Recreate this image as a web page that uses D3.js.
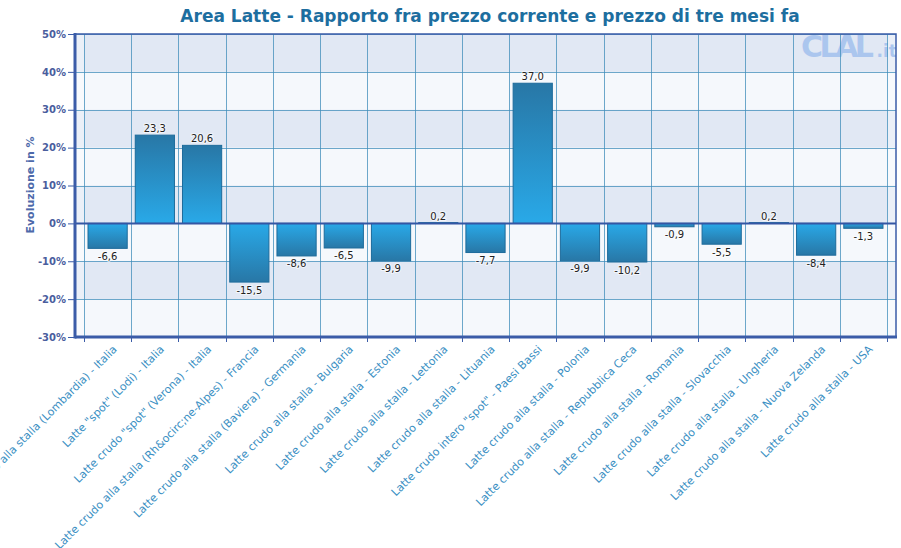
<!DOCTYPE html>
<html>
<head>
<meta charset="utf-8">
<script src="https://cdn.jsdelivr.net/npm/d3@7"></script>
<style>
  body { margin: 0; background: #fff; }
  svg { display: block; font-family: "DejaVu Sans", Verdana, sans-serif; }
</style>
</head>
<body>
<script>
// data
var categories = [
  'Latte crudo alla stalla (Lombardia) - Italia',
  'Latte "spot" (Lodi) - Italia',
  'Latte crudo "spot" (Verona) - Italia',
  'Latte crudo alla stalla (Rh&ocirc;ne-Alpes) - Francia',
  'Latte crudo alla stalla (Baviera) - Germania',
  'Latte crudo alla stalla - Bulgaria',
  'Latte crudo alla stalla - Estonia',
  'Latte crudo alla stalla - Lettonia',
  'Latte crudo alla stalla - Lituania',
  'Latte crudo intero "spot" - Paesi Bassi',
  'Latte crudo alla stalla - Polonia',
  'Latte crudo alla stalla - Repubblica Ceca',
  'Latte crudo alla stalla - Romania',
  'Latte crudo alla stalla - Slovacchia',
  'Latte crudo alla stalla - Ungheria',
  'Latte crudo alla stalla - Nuova Zelanda',
  'Latte crudo alla stalla - USA'
];
var values = [-6.6, 23.3, 20.6, -15.5, -8.6, -6.5, -9.9, 0.2, -7.7, 37.0, -9.9, -10.2, -0.9, -5.5, 0.2, -8.4, -1.3];
var yTicks = [-30, -20, -10, 0, 10, 20, 30, 40, 50];

var global_width = 901,
    global_height = 548;

// plot frame
var margin = {top: 34, right: 5, bottom: 211, left: 75};
var width = global_width - margin.left - margin.right,
    height = global_height - margin.top - margin.bottom;
var inset = 9;

var svg = d3.select('body').append('svg')
  .attr('width', global_width)
  .attr('height', global_height);

var defs = svg.append('defs');

// bar gradients: bright near zero, darker at the end
var gUp = defs.append('linearGradient').attr('id', 'gradUp')
  .attr('x1', 0).attr('y1', 1).attr('x2', 0).attr('y2', 0);
gUp.append('stop').attr('offset', '0%').attr('stop-color', '#29a9e8');
gUp.append('stop').attr('offset', '100%').attr('stop-color', '#2877a6');
var gDown = defs.append('linearGradient').attr('id', 'gradDown')
  .attr('x1', 0).attr('y1', 0).attr('x2', 0).attr('y2', 1);
gDown.append('stop').attr('offset', '0%').attr('stop-color', '#29a9e8');
gDown.append('stop').attr('offset', '100%').attr('stop-color', '#2877a6');

defs.append('clipPath').attr('id', 'plotClip')
  .append('rect').attr('width', width).attr('height', height);

var g = svg.append('g')
  .attr('transform', 'translate(' + margin.left + ',' + margin.top + ')');

//Scales
var yScale = d3.scaleLinear().domain([-30, 50]).range([height, 0]);
var xCell = d3.scaleBand().domain(categories).range([inset, width - inset]);
var xScale = d3.scaleBand().domain(categories).range([inset, width - inset])
  .paddingInner(0.17).paddingOuter(0.085);

// background
g.append('rect')
  .attr('width', width).attr('height', height)
  .attr('fill', '#f5f8fc');

// alternating bands
var bands = d3.pairs(yTicks).filter(function(p, i) { return i % 2 === 1; });
g.append('g').selectAll('rect')
  .data(bands)
  .enter().append('rect')
  .attr('x', 0)
  .attr('width', width)
  .attr('y', function(d) { return yScale(d[1]); })
  .attr('height', function(d) { return yScale(d[0]) - yScale(d[1]); })
  .attr('fill', '#e1e8f4');

// lighter side strips
g.append('rect').attr('x', 0).attr('width', inset).attr('height', height)
  .attr('fill', '#fff').attr('opacity', 0.35);
g.append('rect').attr('x', width - inset).attr('width', inset).attr('height', height)
  .attr('fill', '#fff').attr('opacity', 0.35);

// watermark
var wm = g.append('g').attr('clip-path', 'url(#plotClip)')
  .append('text')
  .attr('x', 726).attr('y', 23)
  .attr('font-weight', 'bold')
  .attr('fill', '#abc6ee');
wm.append('tspan')
  .attr('font-size', 30)
  .attr('letter-spacing', -3.5)
  .text('CLAL');
wm.append('tspan')
  .attr('dx', 6)
  .attr('font-size', 17)
  .text('.it');

// grid lines
var grid = g.append('g').attr('stroke', '#3d8cba').attr('stroke-opacity', 0.75).attr('stroke-width', 1);
grid.selectAll('.hgrid')
  .data(yTicks.filter(function(d) { return d !== 0 && d !== -30; }))
  .enter().append('line')
  .attr('x1', 0).attr('x2', width)
  .attr('y1', function(d) { return Math.round(yScale(d)) + 0.5; })
  .attr('y2', function(d) { return Math.round(yScale(d)) + 0.5; });
var bounds = categories.map(function(c) { return xCell(c); }).concat([width - inset]);
grid.selectAll('.vgrid')
  .data(bounds)
  .enter().append('line')
  .attr('x1', function(d) { return Math.round(d) + 0.5; })
  .attr('x2', function(d) { return Math.round(d) + 0.5; })
  .attr('y1', 0).attr('y2', height);

//Bars
g.append('g').selectAll('rect')
  .data(values)
  .enter().append('rect')
  .attr('x', function(d, i) { return xScale(categories[i]); })
  .attr('width', xScale.bandwidth())
  .attr('y', function(d) { return yScale(Math.max(0, d)); })
  .attr('height', function(d) { return Math.abs(yScale(d) - yScale(0)); })
  .attr('fill', function(d) { return d >= 0 ? 'url(#gradUp)' : 'url(#gradDown)'; })
  .attr('stroke', '#1d6b9b')
  .attr('stroke-width', 1);

// value labels (comma decimals, plain hyphen)
var fmt = d3.format('.1f');
g.append('g').selectAll('text')
  .data(values)
  .enter().append('text')
  .attr('x', function(d, i) { return xScale(categories[i]) + xScale.bandwidth() / 2; })
  .attr('y', function(d) { return d >= 0 ? yScale(d) - 3 : yScale(d) + 11.5; })
  .attr('text-anchor', 'middle')
  .attr('font-size', 10)
  .attr('fill', '#222')
  .attr('stroke', '#fff').attr('stroke-width', 2).attr('stroke-opacity', 0.6)
  .attr('paint-order', 'stroke')
  .text(function(d) { return fmt(d).replace('.', ',').replace('\u2212', '-'); });

// frame
g.append('rect')
  .attr('width', width).attr('height', height)
  .attr('fill', 'none').attr('stroke', '#3b5ca8').attr('stroke-width', 1.5);

// zero line
g.append('line')
  .attr('x1', 0).attr('x2', width)
  .attr('y1', yScale(0)).attr('y2', yScale(0))
  .attr('stroke', '#3456a4').attr('stroke-width', 2);

// bottom axis line and ticks
g.append('line')
  .attr('x1', 0).attr('x2', width + 1)
  .attr('y1', height).attr('y2', height)
  .attr('stroke', '#3b5ca8').attr('stroke-width', 3);
g.append('g').selectAll('line')
  .data(bounds)
  .enter().append('line')
  .attr('x1', function(d) { return Math.round(d) + 0.5; })
  .attr('x2', function(d) { return Math.round(d) + 0.5; })
  .attr('y1', height).attr('y2', height + 5)
  .attr('stroke', '#3b5ca8');

// x labels
g.append('g').selectAll('text')
  .data(categories)
  .enter().append('text')
  .attr('transform', function(d) {
    return 'translate(' + (xCell(d) + xCell.bandwidth() / 2 + 10) + ',' + (height + 13) + ') rotate(-45)';
  })
  .attr('text-anchor', 'end')
  .attr('font-size', 11)
  .attr('fill', '#3a8fc3')
  .text(function(d) { return d; });

// y axis
var yAxis = d3.axisLeft(yScale)
  .tickValues(yTicks)
  .tickSize(7)
  .tickPadding(2)
  .tickFormat(function(d) { return d + '%'; });
var ya = g.append('g').attr('class', 'y axis').call(yAxis);
ya.select('.domain').remove();
ya.selectAll('line').attr('stroke', '#3b5ca8');
ya.selectAll('text')
  .attr('font-family', '"DejaVu Sans", Verdana, sans-serif')
  .attr('font-size', 10).attr('font-weight', 'bold')
  .attr('fill', '#4a5e9e');
g.append('line')
  .attr('x1', 0).attr('x2', 0)
  .attr('y1', -1).attr('y2', height + 1.5)
  .attr('stroke', '#3b5ca8').attr('stroke-width', 3);

// y title
svg.append('text')
  .attr('transform', 'translate(34,185) rotate(-90)')
  .attr('text-anchor', 'middle')
  .attr('font-size', 11).attr('font-weight', 'bold')
  .attr('fill', '#4d69aa')
  .text('Evoluzione in %');

//Chart Title
svg.append('text')
  .attr('x', 490).attr('y', 22)
  .attr('text-anchor', 'middle')
  .attr('font-size', 17).attr('font-weight', 'bold')
  .attr('fill', '#1d6e9f')
  .text('Area Latte - Rapporto fra prezzo corrente e prezzo di tre mesi fa');
</script>
</body>
</html>
